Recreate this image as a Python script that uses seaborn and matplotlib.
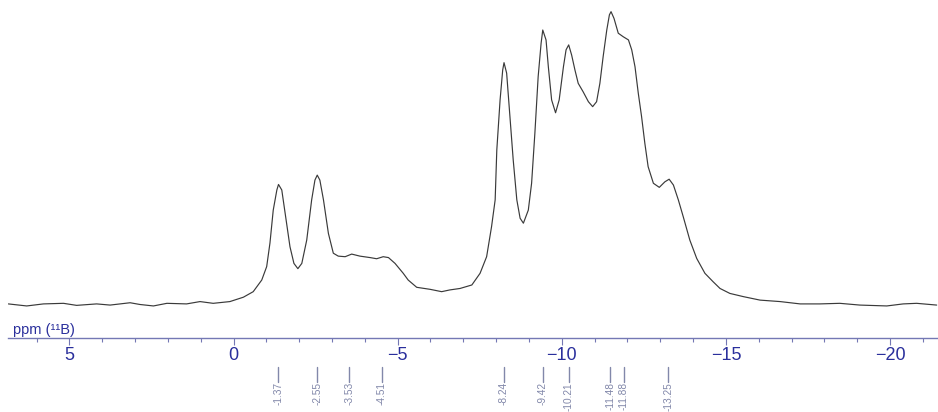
import numpy as np
import pandas as pd
import matplotlib
matplotlib.use("Agg")
import matplotlib.pyplot as plt
import matplotlib.transforms as mtransforms
from matplotlib.ticker import MultipleLocator
import seaborn as sns

# ---- data (chemical shift in ppm, relative intensity) ----
ppm = [6.86, 6.30, 5.79, 5.18, 4.78, 4.17, 3.76, 3.15, 2.85, 2.44, 2.03, 1.43, 1.02, 0.62, 0.11,
       -0.30, -0.60, -0.86, -1.01, -1.11, -1.21, -1.32, -1.37, -1.47, -1.57, -1.72, -1.84, -1.96,
       -2.08, -2.23, -2.38, -2.48, -2.55, -2.63, -2.74, -2.89, -3.04, -3.19, -3.40, -3.60, -3.85,
       -4.16, -4.36, -4.56, -4.72, -4.92, -5.17, -5.32, -5.58, -5.99, -6.34, -6.59, -6.90, -7.26,
       -7.51, -7.71, -7.86, -7.97, -8.02, -8.12, -8.20, -8.24, -8.32, -8.42, -8.52, -8.63, -8.73,
       -8.83, -8.98, -9.08, -9.18, -9.28, -9.37, -9.42, -9.52, -9.59, -9.69, -9.81, -9.92, -10.05,
       -10.13, -10.21, -10.30, -10.40, -10.50, -10.65, -10.81, -10.94, -11.06, -11.16, -11.26,
       -11.37, -11.45, -11.50, -11.59, -11.72, -11.87, -12.03, -12.13, -12.23, -12.33, -12.43,
       -12.53, -12.63, -12.79, -12.97, -13.14, -13.27, -13.40, -13.55, -13.70, -13.90, -14.11,
       -14.36, -14.61, -14.82, -15.12, -15.53, -16.04, -16.65, -17.26, -17.86, -18.47, -19.08,
       -19.90, -20.40, -20.81, -21.42]
intensity = [-0.3, -1.0, -0.3, -0.1, -0.8, -0.3, -0.7, 0.1, -0.5, -1.0, -0.1, -0.3, 0.5, -0.1, 0.5,
             2.0, 3.9, 7.9, 12.5, 20.6, 31.9, 38.8, 40.7, 38.8, 30.9, 19.3, 13.6, 11.8,
             13.6, 21.6, 35.4, 42.2, 43.9, 42.2, 35.4, 23.9, 17.1, 16.1, 15.9, 16.8, 16.1,
             15.6, 15.2, 15.9, 15.6, 13.6, 10.2, 7.9, 5.4, 4.7, 3.9, 4.5, 5.0, 6.2,
             10.2, 15.9, 26.2, 35.4, 52.5, 69.7, 80.0, 82.5, 78.9, 64.0, 49.1, 35.4, 29.1,
             27.4, 31.9, 41.1, 58.3, 77.7, 89.2, 93.7, 90.3, 81.1, 69.7, 65.3, 69.7, 81.1,
             86.9, 88.6, 85.1, 80.0, 75.4, 72.5, 69.1, 67.4, 69.1, 75.4, 84.6,
             93.7, 98.9, 100.0, 97.7, 92.6, 91.4, 90.3, 86.9, 81.1, 72.0, 64.0,
             54.8, 46.8, 41.1, 39.7, 41.6, 42.5, 40.5, 35.4, 29.6, 21.6, 15.3,
             10.2, 7.3, 5.0, 3.3, 2.2, 1.0, 0.5, -0.3, -0.3, -0.1, -0.7,
             -1.0, -0.3, -0.1, -0.7]

peak_ppm = [-1.37, -2.55, -3.53, -4.51, -8.24, -9.42, -10.21, -11.48, -11.88, -13.25]
peak_labels = ["-1.37", "-2.55", "-3.53", "-4.51", "-8.24", "-9.42", "-10.21", "-11.48", "-11.88", "-13.25"]

major_ticks = [5, 0, -5, -10, -15, -20]
axis_label = "ppm (\u00b9\u00b9B)"

# ---- styling ----
sns.set_theme(style="white")
plt.rcParams["font.family"] = ["Liberation Sans", "DejaVu Sans"]

W, H = 938, 412
fig = plt.figure(figsize=(W / 100, H / 100), dpi=100)
ax = fig.add_axes([8 / W, 74 / H, 930 / W, 338 / H])

df = pd.DataFrame({"ppm": ppm, "intensity": intensity})
sns.lineplot(data=df, x="ppm", y="intensity", ax=ax, color="#3a3a3a",
             linewidth=0.85, estimator=None, sort=False)

ax.set_xlim(6.87, -21.46)
ax.set_ylim(-12.0, 104.0)

axis_col = "#7478b4"
label_col = "#2a2f9c"
for s in ["top", "left", "right"]:
    ax.spines[s].set_visible(False)
ax.spines["bottom"].set_color(axis_col)
ax.spines["bottom"].set_linewidth(1.0)

ax.set_yticks([])
ax.set_xticks(major_ticks)
ax.set_xticklabels([("\u2212" + str(abs(t))) if t < 0 else str(t) for t in major_ticks])
ax.xaxis.set_minor_locator(MultipleLocator(1))
ax.tick_params(axis="x", which="both", bottom=True, top=False)
ax.tick_params(axis="x", which="major", direction="out", length=5.2, width=0.8,
               color=axis_col, labelcolor=label_col, labelsize=13, pad=1.0)
ax.tick_params(axis="x", which="minor", direction="out", length=3.0, width=0.8,
               color=axis_col)
ax.set_xlabel("")
ax.set_ylabel("")

# axis unit label
fig.text(13 / W, (H - 334) / H, axis_label, color=label_col, fontsize=10.5,
         ha="left", va="baseline")

# peak labels below the axis
trans = mtransforms.blended_transform_factory(ax.transData, fig.transFigure)
peak_col = "#8288aa"
for p, lab in zip(peak_ppm, peak_labels):
    ax.plot([p, p], [(H - 367) / H, (H - 382) / H], transform=trans, color=peak_col,
            linewidth=1.0, clip_on=False)
    ax.text(p, (H - 382) / H, lab, transform=trans, rotation=90, ha="center", va="top",
            fontsize=7.3, color=peak_col, clip_on=False)

fig.savefig("out.png", dpi=100)
